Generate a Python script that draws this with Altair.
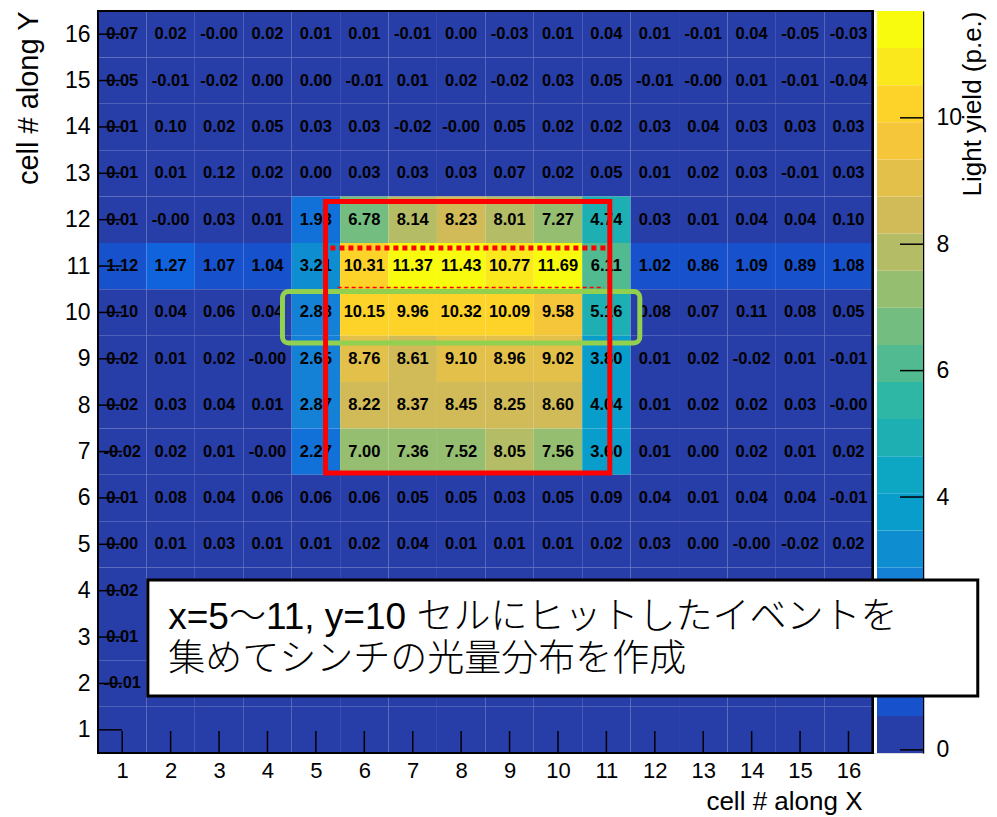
import altair as alt
import pandas as pd

# ---------------- data ----------------
x_cells = list(range(1, 17))

row_16 = [0.07, 0.02, -0.00, 0.02, 0.01, 0.01, -0.01, 0.00, -0.03, 0.01, 0.04, 0.01, -0.01, 0.04, -0.05, -0.03]
row_15 = [0.05, -0.01, -0.02, 0.00, 0.00, -0.01, 0.01, 0.02, -0.02, 0.03, 0.05, -0.01, -0.00, 0.01, -0.01, -0.04]
row_14 = [0.01, 0.10, 0.02, 0.05, 0.03, 0.03, -0.02, -0.00, 0.05, 0.02, 0.02, 0.03, 0.04, 0.03, 0.03, 0.03]
row_13 = [0.01, 0.01, 0.12, 0.02, 0.00, 0.03, 0.03, 0.03, 0.07, 0.02, 0.05, 0.01, 0.02, 0.03, -0.01, 0.03]
row_12 = [0.01, -0.00, 0.03, 0.01, 1.93, 6.78, 8.14, 8.23, 8.01, 7.27, 4.74, 0.03, 0.01, 0.04, 0.04, 0.10]
row_11 = [1.12, 1.27, 1.07, 1.04, 3.21, 10.31, 11.37, 11.43, 10.77, 11.69, 6.11, 1.02, 0.86, 1.09, 0.89, 1.08]
row_10 = [0.10, 0.04, 0.06, 0.04, 2.88, 10.15, 9.96, 10.32, 10.09, 9.58, 5.16, 0.08, 0.07, 0.11, 0.08, 0.05]
row_9 = [0.02, 0.01, 0.02, -0.00, 2.65, 8.76, 8.61, 9.10, 8.96, 9.02, 3.80, 0.01, 0.02, -0.02, 0.01, -0.01]
row_8 = [0.02, 0.03, 0.04, 0.01, 2.87, 8.22, 8.37, 8.45, 8.25, 8.60, 4.04, 0.01, 0.02, 0.02, 0.03, -0.00]
row_7 = [-0.02, 0.02, 0.01, -0.00, 2.27, 7.00, 7.36, 7.52, 8.05, 7.56, 3.60, 0.01, 0.00, 0.02, 0.01, 0.02]
row_6 = [0.01, 0.08, 0.04, 0.06, 0.06, 0.06, 0.05, 0.05, 0.03, 0.05, 0.09, 0.04, 0.01, 0.04, 0.04, -0.01]
row_5 = [0.00, 0.01, 0.03, 0.01, 0.01, 0.02, 0.04, 0.01, 0.01, 0.01, 0.02, 0.03, 0.00, -0.00, -0.02, 0.02]
# rows 2-4: only column 1 is readable, the rest lies under the text box (None = not shown)
row_4 = [0.02, None, None, None, None, None, None, None, None, None, None, None, None, None, None, None]
row_3 = [0.01, None, None, None, None, None, None, None, None, None, None, None, None, None, None, None]
row_2 = [-0.01, None, None, None, None, None, None, None, None, None, None, None, None, None, None, None]
# row 1: empty bins (no text drawn)
row_1 = [None, None, None, None, None, None, None, None, None, None, None, None, None, None, None, None]

rows = {16: row_16, 15: row_15, 14: row_14, 13: row_13, 12: row_12, 11: row_11,
        10: row_10, 9: row_9, 8: row_8, 7: row_7, 6: row_6, 5: row_5,
        4: row_4, 3: row_3, 2: row_2, 1: row_1}

cb_tick_values = [0, 4, 6, 8, 10]   # "2" is hidden by the text box
cb_rule_values = [0, 2, 4, 6, 8, 10]
z_min, z_max = -0.05, 11.69
n_levels = 20

note_lines = ["x=5〜11, y=10 セルにヒットしたイベントを", "集めてシンチの光量分布を作成"]

# ---------------- tables built from the lists ----------------
recs = []
for yv, row in rows.items():
    for xv, v in zip(x_cells, row):
        recs.append({
            "x": xv, "y": yv,
            "x0": xv - 0.5, "x1": xv + 0.5, "y0": yv - 0.5, "y1": yv + 0.5,
            "z": 0.0 if v is None else v,
            "label": "" if v is None else f"{v:.2f}",
        })
cells = pd.DataFrame(recs)
ticks_df = pd.DataFrame({"t": x_cells})

step = (z_max - z_min) / n_levels
bands = pd.DataFrame({
    "lo": [z_min + i * step for i in range(n_levels)],
    "hi": [z_min + (i + 1) * step for i in range(n_levels)],
    "mid": [z_min + (i + 0.5) * step for i in range(n_levels)],
})
cb_ticks = pd.DataFrame({"v": cb_rule_values})

# ROOT kBird palette, 20 contour levels
bird_r = [0.2082, 0.0592, 0.0780, 0.0232, 0.1802, 0.5301, 0.8186, 0.9956, 0.9764]
bird_g = [0.1664, 0.3599, 0.5041, 0.6419, 0.7178, 0.7492, 0.7328, 0.7862, 0.9832]
bird_b = [0.5293, 0.8684, 0.8385, 0.7914, 0.6425, 0.4662, 0.3499, 0.1968, 0.0539]


def bird(t):
    pos = t * 8
    i = min(int(pos), 7)
    f = pos - i
    c = [a[i] + (a[i + 1] - a[i]) * f for a in (bird_r, bird_g, bird_b)]
    return "#%02x%02x%02x" % tuple(int(round(v * 255)) for v in c)


palette = [bird(int((i + 0.99) * 255 / n_levels) / 254) for i in range(n_levels)]

# ---------------- geometry ----------------
W, H = 825, 742
HEAT_W = 774.7
FONT = "Liberation Sans"

xs = alt.Scale(domain=[0.5, 16.5], range=[0, HEAT_W], nice=False, zero=False)
ys = alt.Scale(domain=[0.5, 16.5], nice=False, zero=False)
cs = alt.Scale(type="quantize", domain=[z_min, z_max], range=palette, nice=False, zero=False)
cbs = alt.Scale(domain=[z_min, z_max], nice=False, zero=False)

x_axis = alt.Axis(values=x_cells, format="d", ticks=False, tickSize=0, domain=False, grid=False,
                  labelFontSize=22, labelPadding=7, labelColor="black", labelFlush=False,
                  labelFont=FONT, title="cell # along X", titleFont=FONT, titleFontSize=26,
                  titleFontWeight="normal", titleColor="black", titleAnchor="end",
                  titleX=764, titleY=56, titleAlign="right", titleBaseline="alphabetic")
y_axis = alt.Axis(values=x_cells, format="d", ticks=False, tickSize=0, domain=False, grid=False,
                  orient="left", labelFontSize=23, labelPadding=8, labelColor="black",
                  labelFlush=False, labelFont=FONT, title="cell # along Y", titleFont=FONT,
                  titleFontSize=29, titleFontWeight="normal", titleColor="black",
                  titleAngle=270, titleAnchor="end", titleAlign="right", titleBaseline="middle",
                  titleX=-70, titleY=0)
cb_axis = alt.Axis(orient="right", values=cb_tick_values, ticks=False, tickSize=0, domain=True,
                   domainColor="black", domainWidth=1.5, grid=False, labelFontSize=23,
                   labelPadding=13, labelColor="black", labelFlush=False, labelFont=FONT,
                   title="Light yield (p.e.)", titleFont=FONT, titleFontSize=26,
                   titleFontWeight="normal", titleColor="black", titleAngle=270,
                   titleAnchor="end", titleAlign="right", titleBaseline="middle",
                   titleX=49, titleY=0)

# ---------------- colour bar ----------------
cbar_rects = alt.Chart(bands).mark_rect().encode(
    x=alt.value(779), x2=alt.value(W),
    y=alt.Y("lo:Q", scale=cbs, axis=cb_axis), y2="hi:Q",
    color=alt.Color("mid:Q", scale=cs, legend=None),
)
cbar_ticks = alt.Chart(cb_ticks).mark_rule(color="black", strokeWidth=1.5).encode(
    y=alt.Y("v:Q", scale=cbs, axis=cb_axis),
    x=alt.value(802), x2=alt.value(W),
)
cbar = alt.layer(cbar_rects, cbar_ticks)

# ---------------- heat map ----------------
heat_rects = alt.Chart(cells).mark_rect().encode(
    x=alt.X("x0:Q", scale=xs, axis=x_axis), x2="x1:Q",
    y=alt.Y("y0:Q", scale=ys, axis=y_axis), y2="y1:Q",
    color=alt.Color("z:Q", scale=cs, legend=None),
)
heat_text = alt.Chart(cells).transform_filter("datum.label != ''").mark_text(
    font=FONT, fontSize=16.5, fontWeight="bold", color="black", baseline="middle",
    align="center").encode(
    x=alt.X("x:Q", scale=xs, axis=x_axis),
    y=alt.Y("y:Q", scale=ys, axis=y_axis),
    text="label:N",
)
frame = alt.Chart(ticks_df).mark_rect(fillOpacity=0, stroke="black", strokeWidth=1.5).encode(
    x=alt.X(datum=0.5, scale=xs, axis=x_axis), x2=alt.X2(datum=16.5),
    y=alt.Y(datum=0.5, scale=ys, axis=y_axis), y2=alt.Y2(datum=16.5),
)
x_ticks = alt.Chart(ticks_df).mark_rule(color="black", strokeWidth=1.5).encode(
    x=alt.X("t:Q", scale=xs, axis=x_axis), y=alt.value(H), y2=alt.value(H - 22),
)
y_ticks = alt.Chart(ticks_df).mark_rule(color="black", strokeWidth=1.5).encode(
    y=alt.Y("t:Q", scale=ys, axis=y_axis), x=alt.value(0), x2=alt.value(24),
)

# ---------------- annotations (drawn in cell units) ----------------
one = pd.DataFrame({"a": [0]})


def box(x0, x1, y0, y1, **kw):
    return alt.Chart(one).mark_rect(**kw).encode(
        x=alt.X(datum=x0, scale=xs, axis=x_axis), x2=alt.X2(datum=x1),
        y=alt.Y(datum=y0, scale=ys, axis=y_axis), y2=alt.Y2(datum=y1),
    )


def hline(x0, x1, yv, **kw):
    return alt.Chart(one).mark_rule(**kw).encode(
        x=alt.X(datum=x0, scale=xs, axis=x_axis), x2=alt.X2(datum=x1),
        y=alt.Y(datum=yv, scale=ys, axis=y_axis),
    )


green_box = box(4.31, 11.69, 9.34, 10.45, fillOpacity=0, stroke="#92D050", strokeWidth=5,
                cornerRadius=6)
red_box = box(5.20, 11.07, 6.54, 12.39, fillOpacity=0, stroke="#FF0000", strokeWidth=5)
red_dots = hline(5.30, 11.07, 11.39, color="#FF0000", strokeWidth=5, strokeDash=[5, 4],
                 strokeCap="butt")
red_dash = hline(5.45, 10.95, 10.54, color="#FF0000", strokeWidth=1.5, strokeDash=[4, 3])
note_box = box(1.53, 18.67, 1.73, 4.23, fill="white", stroke="black", strokeWidth=3)
note_text = alt.Chart(one).mark_text(
    font="Liberation Sans, Noto Sans CJK JP", fontSize=37, fontWeight=300, color="black",
    align="left", baseline="alphabetic", lineHeight=42).encode(
    x=alt.X(datum=1.95, scale=xs, axis=x_axis),
    y=alt.Y(datum=3.17, scale=ys, axis=y_axis),
    text=alt.value(note_lines),
)

heat = alt.layer(heat_rects, heat_text, frame, x_ticks, y_ticks, green_box, red_box,
                 red_dots, red_dash, note_box, note_text)

chart = alt.layer(cbar, heat).resolve_scale(
    x="independent", y="independent"
).properties(
    width=W, height=H,
    padding={"left": 90, "top": 3, "right": 66, "bottom": 62},
    autosize=alt.AutoSizeParams(type="none"),
    background="white",
).configure_view(stroke="transparent").configure(font=FONT)

chart.save("out.html", embed_options={"renderer": "svg", "actions": False})
